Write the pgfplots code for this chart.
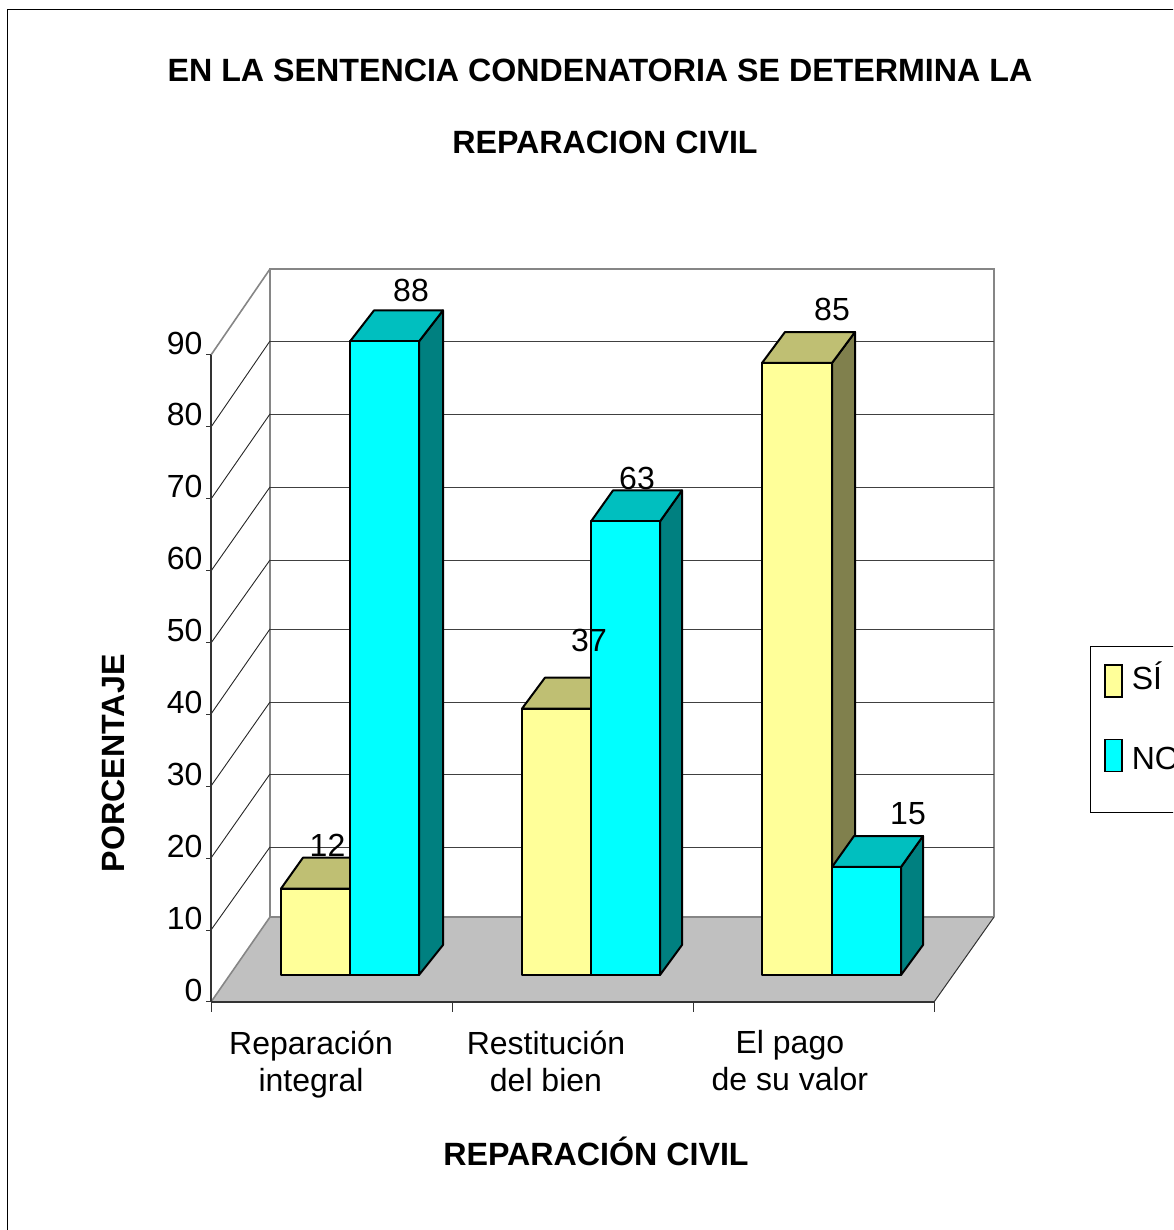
\documentclass[border=0pt]{standalone}
\usepackage{pgfplots}
\pgfplotsset{compat=1.18}
\usepackage{fontspec}
\setmainfont{Liberation Sans}
\definecolor{yfront}{HTML}{FFFF99}
\definecolor{ytop}{HTML}{BFBF73}
\definecolor{yside}{HTML}{80804D}
\definecolor{cfront}{HTML}{00FFFF}
\definecolor{ctop}{HTML}{00BFBF}
\definecolor{cside}{HTML}{008080}
\definecolor{floorc}{HTML}{C0C0C0}
\definecolor{wallc}{HTML}{868686}
\newcommand\lab{\fontsize{32}{37}\selectfont}
\newcommand\blab{\fontsize{32.2}{37}\selectfont\bfseries}
\pgfplotsset{tall legend/.style 2 args={/pgfplots/legend image code/.code={\draw[##1] (0pt,#1) rectangle (17pt,#2);}}}
% one 3-D bar: x0, x1, value, depth in x, colours
\newcommand\threebar[7]{%
  \addplot[forget plot,fill=#7,draw=black,line width=2pt,line join=round] coordinates {(#2,0) ({#2+#4},4.17) ({#2+#4},{#3+4.3}) (#2,#3)} --cycle;
  \addplot[forget plot,fill=#6,draw=black,line width=2pt,line join=round] coordinates {(#1,#3) (#2,#3) ({#2+#4},{#3+4.3}) ({#1+#4},{#3+4.3})} --cycle;
  \addplot[forget plot,fill=#5,draw=black,line width=2pt,line join=round] coordinates {(#1,0) (#2,0) (#2,#3) (#1,#3)} --cycle;
}
\begin{document}
\begin{tikzpicture}
\path[use as bounding box,clip] (0,0) rectangle (1173pt,1230pt);
% ---- background: pixel coordinates
\begin{axis}[at={(0,0)},anchor=south west,scale only axis,width=1173pt,height=1230pt,
  xmin=0,xmax=1173,ymin=0,ymax=1230,y dir=reverse,hide axis,clip=false]
\addplot[draw=black,line width=1pt] coordinates {(7,1300) (7,10) (1300,10)};
\addplot[fill=floorc,draw=none] coordinates {(211,1002) (934,1002) (994,917) (270,917)} --cycle;
\addplot[draw=wallc,line width=1.6pt] coordinates {(211,1002) (270,917) (994,917)};
\addplot[draw=black!80,line width=1pt] coordinates {(934,1002) (994,917)};
\addplot[draw=wallc,line width=1.6pt] coordinates {(994,917) (994,269) (270,269) (270,917)};
\addplot[draw=wallc,line width=1.6pt] coordinates {(270,269) (211,355)};
% gridlines on the wall and side wall
\addplot[draw=black!75,line width=1pt] coordinates {(270,847) (994,847)};
\addplot[draw=black!75,line width=1pt] coordinates {(270,774) (994,774)};
\addplot[draw=black!75,line width=1pt] coordinates {(270,702) (994,702)};
\addplot[draw=black!75,line width=1pt] coordinates {(270,629) (994,629)};
\addplot[draw=black!75,line width=1pt] coordinates {(270,560) (994,560)};
\addplot[draw=black!75,line width=1pt] coordinates {(270,487) (994,487)};
\addplot[draw=black!75,line width=1pt] coordinates {(270,414) (994,414)};
\addplot[draw=black!75,line width=1pt] coordinates {(270,341) (994,341)};
\addplot[draw=black!85,line width=.9pt] coordinates {(211,930) (270,847)};
\addplot[draw=black!85,line width=.9pt] coordinates {(211,858) (270,774)};
\addplot[draw=black!85,line width=.9pt] coordinates {(211,786) (270,702)};
\addplot[draw=black!85,line width=.9pt] coordinates {(211,714) (270,629)};
\addplot[draw=black!85,line width=.9pt] coordinates {(211,643) (270,560)};
\addplot[draw=black!85,line width=.9pt] coordinates {(211,571) (270,487)};
\addplot[draw=black!85,line width=.9pt] coordinates {(211,499) (270,414)};
\addplot[draw=black!85,line width=.9pt] coordinates {(211,427) (270,341)};
% long ticks under the floor
\addplot[draw=black!80,line width=1pt] coordinates {(211,1002) (211,1012)};
\addplot[draw=black!80,line width=1pt] coordinates {(452,1002) (452,1012)};
\addplot[draw=black!80,line width=1pt] coordinates {(693,1002) (693,1012)};
\addplot[draw=black!80,line width=1pt] coordinates {(934,1002) (934,1012)};
% legend frame
\addplot[fill=white,draw=black,line width=1pt] coordinates {(1090,646) (1300,646) (1300,812) (1090,812)} --cycle;
% titles
\node[font=\blab,anchor=center] at (axis cs:600,70.5) {EN LA SENTENCIA CONDENATORIA SE DETERMINA LA};
\node[font=\blab,anchor=center] at (axis cs:605,142.5) {REPARACION CIVIL};
\end{axis}
% ---- front axis with the scale
\begin{axis}[at={(211pt,228pt)},anchor=south west,scale only axis,width=723pt,height=647pt,
  xmin=0,xmax=3,ymin=0,ymax=90,
  axis x line*=bottom,axis y line*=left,axis line style={-,line width=1.2pt,draw=black!80},
  ytick={0,10,...,90},xtick={0,1,2,3},xticklabels={},
  tick align=outside,tick style={black!80,line width=1pt},
  major tick length=5pt,
  /pgf/number format/assume math mode=true,
  yticklabel style={font=\lab,yshift=12pt,xshift=0pt},
  extra x ticks={0.415,1.39,2.402},
  extra x tick labels={{Reparación\\integral},{Restitución\\del bien},{El pago\\de su valor}},
  extra x tick style={tick style={draw=none},
    xticklabel style={font=\lab,align=center,anchor=north,yshift=-20pt}},
  xlabel={REPARACIÓN CIVIL},ylabel={PORCENTAJE},
  xlabel style={font=\blab,at={(axis description cs:0.5325,-0.2304)},anchor=center},
  ylabel style={font=\blab,at={(axis description cs:-0.1355,0.369)},anchor=center},
  clip=false]
\end{axis}
% ---- bars: x in pixels, y in percent, zero at the foot of the bars
\begin{axis}[at={(0,0)},anchor=south west,scale only axis,width=1173pt,height=1230pt,
  xmin=0,xmax=1173,ymin=-35.4167,ymax=135.4167,hide axis,clip=false,
  legend style={at={(axis description cs:0.9412,0.4635)},anchor=north west,draw=none,fill=none,
    font=\lab,row sep=41pt,column sep=7pt,inner sep=0pt,cells={anchor=west}},
  legend cell align=left]
\threebar{281}{350}{12}{22}{yfront}{ytop}{yside}
\threebar{350}{419}{88}{24}{cfront}{ctop}{cside}
\threebar{522}{591}{37}{23}{yfront}{ytop}{yside}
\threebar{591}{660}{63}{22}{cfront}{ctop}{cside}
\threebar{762}{832}{85}{23}{yfront}{ytop}{yside}
\threebar{832}{901}{15}{22}{cfront}{ctop}{cside}
\node[font=\lab] at (axis cs:327.5,12) [yshift=43pt] {12};
\node[font=\lab] at (axis cs:411,88) [yshift=51pt] {88};
\node[font=\lab] at (axis cs:589,37) [yshift=68pt] {37};
\node[font=\lab] at (axis cs:637,63) [yshift=43pt] {63};
\node[font=\lab] at (axis cs:832,85) [yshift=53pt] {85};
\node[font=\lab] at (axis cs:908,15) [yshift=53pt] {15};
\addlegendimage{tall legend={-20pt}{12pt},fill=yfront,draw=black,line width=1.6pt}
\addlegendentry{SÍ}
\addlegendimage{tall legend={-12pt}{20pt},fill=cfront,draw=black,line width=1.6pt}
\addlegendentry{NO}
\end{axis}
\end{tikzpicture}
\end{document}
